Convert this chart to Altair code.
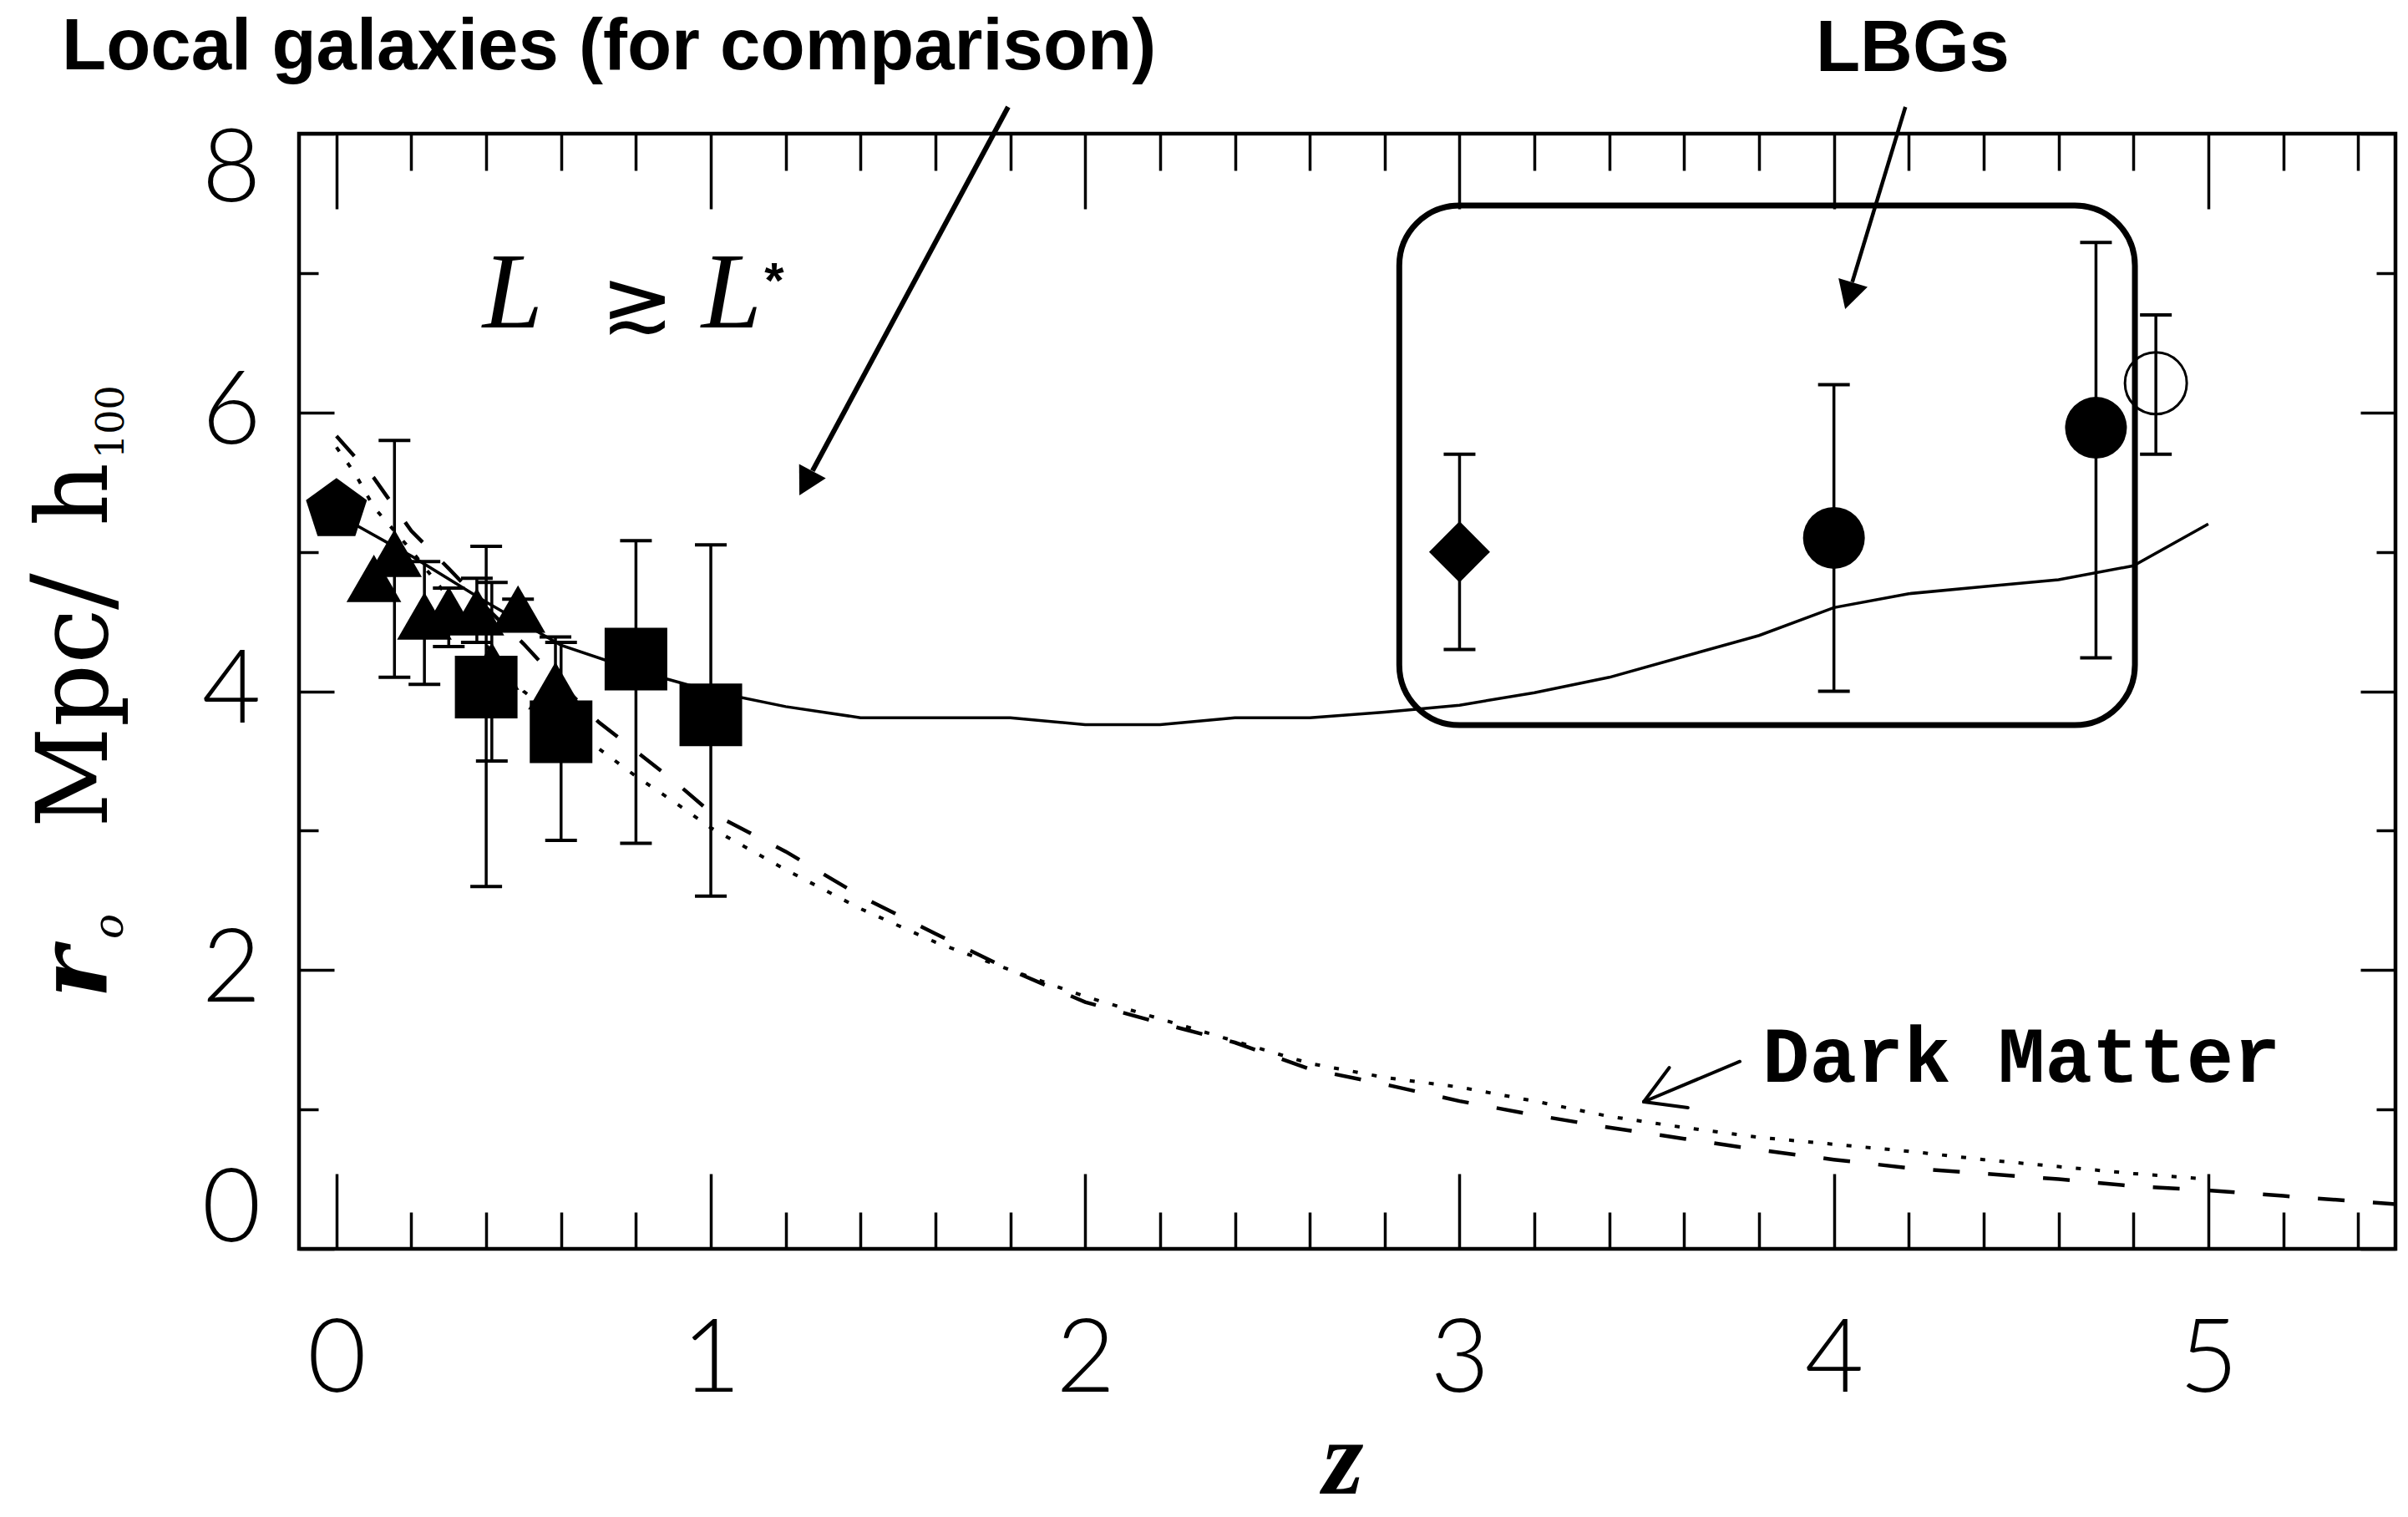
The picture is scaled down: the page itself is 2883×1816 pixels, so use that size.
import altair as alt
import pandas as pd

# ---------------- data ----------------
# model for L >= L* galaxies (solid curve)
lstar_z = [0.0, 0.2, 0.4, 0.6, 0.8, 1.0, 1.2, 1.4, 1.6, 1.8, 2.0, 2.2, 2.4,
           2.6, 2.8, 3.0, 3.2, 3.4, 3.6, 3.8, 4.0, 4.2, 4.4, 4.6, 4.8, 5.0]
lstar_r = [5.27, 4.97, 4.64, 4.33, 4.15, 4.00, 3.89, 3.81, 3.81, 3.81, 3.76, 3.76, 3.81,
           3.81, 3.85, 3.90, 3.99, 4.10, 4.25, 4.40, 4.60, 4.70, 4.75, 4.80, 4.90, 5.20]

# dark matter, dashed curve
dmA_z = [0.0, 0.1, 0.2, 0.3, 0.4, 0.5, 0.6, 0.7, 0.8, 0.9, 1.0, 1.2, 1.4, 1.6, 1.8, 2.0, 2.2,
         2.4, 2.6, 2.8, 3.0, 3.2, 3.4, 3.6, 3.8, 4.0, 4.2, 4.4, 4.6, 4.8, 5.0, 5.2, 5.4, 5.5]
dmA_r = [5.83, 5.53, 5.15, 4.88, 4.60, 4.34, 4.05, 3.78, 3.57, 3.36, 3.13, 2.85, 2.53, 2.26, 2.00,
         1.77, 1.62, 1.48, 1.29, 1.18, 1.06, 0.96, 0.87, 0.79, 0.71, 0.64, 0.58, 0.54, 0.50, 0.45,
         0.42, 0.38, 0.34, 0.32]

# dark matter, dotted curve
dmB_z = [0.0, 0.05, 0.1, 0.2, 0.3, 0.4, 0.5, 0.6, 0.7, 0.8, 0.9, 1.0, 1.2, 1.4, 1.6, 1.8, 2.0,
         2.2, 2.4, 2.6, 2.8, 3.0, 3.2, 3.4, 3.6, 3.8, 4.0, 4.2, 4.4, 4.6, 4.8, 5.0]
dmB_r = [5.75, 5.56, 5.32, 5.01, 4.67, 4.33, 4.00, 3.79, 3.59, 3.39, 3.21, 3.02, 2.72, 2.44, 2.20,
         2.00, 1.81, 1.65, 1.49, 1.33, 1.23, 1.16, 1.06, 0.95, 0.87, 0.80, 0.75, 0.70, 0.64, 0.59,
         0.54, 0.50]

# local galaxies
pent_z = [0.0]
pent_r = [5.30]
tri_z = [0.10, 0.155, 0.235, 0.30, 0.375, 0.415, 0.485, 0.585]
tri_r = [4.81, 4.99, 4.54, 4.58, 4.57, 4.18, 4.59, 4.04]
tri_lo = [None, 4.10, 4.05, 4.32, 4.35, 3.50, 4.52, 3.75]
tri_hi = [None, 5.80, 4.93, 4.74, 4.81, 4.78, 4.66, 4.39]
sq_z = [0.40, 0.60, 0.80, 1.00]
sq_r = [4.03, 3.71, 4.23, 3.83]
sq_lo = [2.60, 2.93, 2.91, 2.53]
sq_hi = [5.04, 4.35, 5.08, 5.05]

# Lyman-break galaxies
dia_z, dia_r, dia_lo, dia_hi = [3.00], [5.00], [4.30], [5.70]
circ_z = [4.00, 4.70]
circ_r = [5.10, 5.89]
circ_lo = [4.00, 4.24]
circ_hi = [6.20, 7.22]
open_z, open_r, open_lo, open_hi = [4.86], [6.21], [5.70], [6.70]

# axis ticks
x_major = [0, 1, 2, 3, 4, 5]
x_minor = [0.2, 0.4, 0.6, 0.8, 1.2, 1.4, 1.6, 1.8, 2.2, 2.4, 2.6, 2.8, 3.2, 3.4,
           3.6, 3.8, 4.2, 4.4, 4.6, 4.8, 5.2, 5.4]
y_major = [0, 2, 4, 6, 8]
y_minor = [1, 3, 5, 7]

# annotation anchors (data coordinates)
box_x, box_x2, box_y, box_y2 = [2.839], [4.804], [7.485], [3.757]
arrL = {"x": [1.7942], "y": [8.1918], "x2": [1.2716], "y2": [5.581]}
arrL_tip = {"x": [1.2366], "y": [5.405]}
arrB = {"x": [4.1910], "y": [8.1918], "x2": [4.049], "y2": [6.935]}
arrB_tip = {"x": [4.030], "y": [6.742]}
arrD = {"x": [3.7486, 3.4920, 3.4920], "y": [1.3441, 1.0547, 1.0547],
        "x2": [3.4920, 3.5603, 3.6100], "y2": [1.0547, 1.3004, 1.0127]}

# ---------------- helpers ----------------
W, H = 2510, 1335
xs = alt.Scale(domain=[-0.1, 5.5], nice=False, zero=False)
ys = alt.Scale(domain=[0, 8], nice=False, zero=False)
LABEL_FONT = "Lato"


def axis(orient, values, size, labels=False, **kw):
    return alt.Axis(orient=orient, values=values, tickSize=size, offset=-size,
                    domain=False, grid=False, ticks=True, tickWidth=3.5,
                    tickColor="black", labels=labels, title=None, **kw)


def X(field="x", ax=None, t="Q"):
    return alt.X(f"{field}:{t}", scale=xs, axis=ax)


def Y(field="y", ax=None, t="Q"):
    return alt.Y(f"{field}:{t}", scale=ys, axis=ax)


lab = dict(labelFont=LABEL_FONT, labelFontWeight=300, labelFontSize=122,
           labelColor="black", format="d")

# ---------------- curves ----------------
solid = alt.Chart(pd.DataFrame({"x": lstar_z, "y": lstar_r})).mark_line(
    color="black", strokeWidth=3.5).encode(
    x=X(ax=axis("bottom", x_major, 90, labels=True, labelPadding=74, **lab)),
    y=Y(ax=axis("left", y_major, 42, labels=True, labelPadding=46, labelFlush=True,
                labelFlushOffset=16, **lab)),
    order="x:Q")

dashed = alt.Chart(pd.DataFrame({"x": dmA_z, "y": dmA_r})).mark_line(
    color="black", strokeWidth=4.5, strokeDash=[32, 34]).encode(
    x=X(ax=axis("bottom", x_minor, 44)), y=Y(ax=axis("left", y_minor, 23)), order="x:Q")

dotted = alt.Chart(pd.DataFrame({"x": dmB_z, "y": dmB_r})).mark_line(
    color="black", strokeWidth=4, strokeDash=[6, 17]).encode(
    x=X(ax=axis("top", x_major, 90)), y=Y(ax=axis("right", y_major, 42)), order="x:Q")

box = alt.Chart(pd.DataFrame({"x": box_x, "x2": box_x2, "y": box_y, "y2": box_y2})).mark_rect(
    cornerRadius=72, fillOpacity=0, stroke="black", strokeWidth=7).encode(
    x=X(ax=axis("top", x_minor, 44)), x2="x2:Q",
    y=Y(ax=axis("right", y_minor, 23)), y2="y2:Q")

# ---------------- error bars ----------------
eb_z = [z for z, lo in zip(tri_z, tri_lo) if lo is not None] + sq_z + dia_z + circ_z + open_z
eb_lo = [lo for lo in tri_lo if lo is not None] + sq_lo + dia_lo + circ_lo + open_lo
eb_hi = [hi for hi in tri_hi if hi is not None] + sq_hi + dia_hi + circ_hi + open_hi
eb = pd.DataFrame({"x": eb_z, "lo": eb_lo, "hi": eb_hi})

err_rule = alt.Chart(eb).mark_rule(color="black", strokeWidth=3.5).encode(
    x=X(), y=Y("lo"), y2="hi:Q")
cap_lo = alt.Chart(eb).mark_tick(orient="horizontal", size=38, thickness=4,
                                 color="black", opacity=1).encode(x=X(), y=Y("lo"))
cap_hi = alt.Chart(eb).mark_tick(orient="horizontal", size=38, thickness=4,
                                 color="black", opacity=1).encode(x=X(), y=Y("hi"))

# ---------------- markers ----------------
PENT = "M0,-1L0.951,-0.309L0.588,0.809L-0.588,0.809L-0.951,-0.309Z"


def pts(zs, rs, shape, size, filled=True, sw=0):
    return alt.Chart(pd.DataFrame({"x": zs, "y": rs})).mark_point(
        shape=shape, size=size, filled=filled, color="black", opacity=1,
        strokeWidth=sw).encode(x=X(), y=Y())


m_tri = pts(tri_z, tri_r, "triangle-up", 4300)
m_sq = pts(sq_z, sq_r, "square", 5625)
m_pent = pts(pent_z, pent_r, PENT, 5900)
m_dia = pts(dia_z, dia_r, "diamond", 5330)
m_circ = pts(circ_z, circ_r, "circle", 5476)
m_open = pts(open_z, open_r, "circle", 5476, filled=False, sw=3)

# ---------------- arrows ----------------
HEAD = "M0,0L-0.55,1L0.55,1Z"
a1 = alt.Chart(pd.DataFrame(arrL)).mark_rule(color="black", strokeWidth=6).encode(
    x=X(), y=Y(), x2="x2:Q", y2="y2:Q")
a1h = alt.Chart(pd.DataFrame(arrL_tip)).mark_point(
    shape=HEAD, size=4356, angle=208.3, filled=True, color="black", opacity=1,
    strokeWidth=0).encode(x=X(), y=Y())
a2 = alt.Chart(pd.DataFrame(arrB)).mark_rule(color="black", strokeWidth=4.5).encode(
    x=X(), y=Y(), x2="x2:Q", y2="y2:Q")
a2h = alt.Chart(pd.DataFrame(arrB_tip)).mark_point(
    shape=HEAD, size=4356, angle=196.6, filled=True, color="black", opacity=1,
    strokeWidth=0).encode(x=X(), y=Y())
a3 = alt.Chart(pd.DataFrame(arrD)).mark_rule(color="black", strokeWidth=4, strokeCap="round").encode(
    x=X(), y=Y(), x2="x2:Q", y2="y2:Q")

# ---------------- text ----------------


def txt(t, zx, ry, **kw):
    return alt.Chart(pd.DataFrame({"x": [zx], "y": [ry], "t": [t]})).mark_text(
        color="black", **kw).encode(x=X(), y=Y(), text="t:N")


ROT = dict(align="left", baseline="alphabetic", angle=270, font="DejaVu Serif")

texts = [
    txt("Local galaxies (for comparison)", -0.7336, 8.4614, align="left", baseline="alphabetic",
        font="Liberation Sans", fontWeight="bold", fontSize=87),
    txt("LBGs", 4.2104, 8.4494, align="center", baseline="alphabetic",
        font="Liberation Sans", fontWeight="bold", fontSize=87),
    txt("L", 0.4712, 6.6097, align="center", baseline="alphabetic",
        font="Liberation Serif", fontStyle="italic", fontSize=130),
    txt("≳", 0.8036, 6.7715, align="center", baseline="middle",
        font="DejaVu Sans", fontWeight=200, fontSize=105),
    txt("L", 1.0557, 6.6097, align="center", baseline="alphabetic",
        font="Liberation Serif", fontStyle="italic", fontSize=130),
    txt("*", 1.1695, 6.8255, align="center", baseline="alphabetic",
        font="Liberation Sans", fontWeight="bold", fontSize=60),
    txt("Dark Matter", 3.8088, 1.1985, align="left", baseline="alphabetic",
        font="Liberation Mono", fontWeight="bold", fontSize=94),
    txt("z", 2.6889, -1.7558, align="center", baseline="alphabetic",
        font="Liberation Serif", fontStyle="italic", fontWeight="bold", fontSize=126),
    # y-axis title, rotated glyphs
    txt("r", -0.6131, 1.7978, fontStyle="italic", fontWeight="bold", fontSize=116, **ROT),
    txt("o", -0.5707, 2.2232, fontStyle="italic", fontSize=50, **ROT),
    txt("Mpc", -0.6131, 3.0202, fontSize=118, **ROT),
    txt("/", -0.6087, 4.5843, fontSize=130, **ROT),
    txt("h", -0.6131, 5.1835, fontSize=118, **ROT),
    txt("100", -0.5686, 5.6689, fontSize=46, **ROT),
]

layers = [solid, dashed, dotted, box, err_rule, cap_lo, cap_hi,
          m_tri, m_pent, m_sq, m_dia, m_circ, m_open,
          a1, a1h, a2, a2h, a3] + texts

chart = alt.layer(*layers).resolve_axis(x="independent", y="independent").properties(
    width=W, height=H,
    autosize=alt.AutoSizeParams(type="none"),
    padding={"left": 358, "top": 160, "right": 15, "bottom": 321},
    background="white",
).configure_view(stroke="black", strokeWidth=4.5)

chart.save("out.html", embed_options={"renderer": "svg", "actions": False})
